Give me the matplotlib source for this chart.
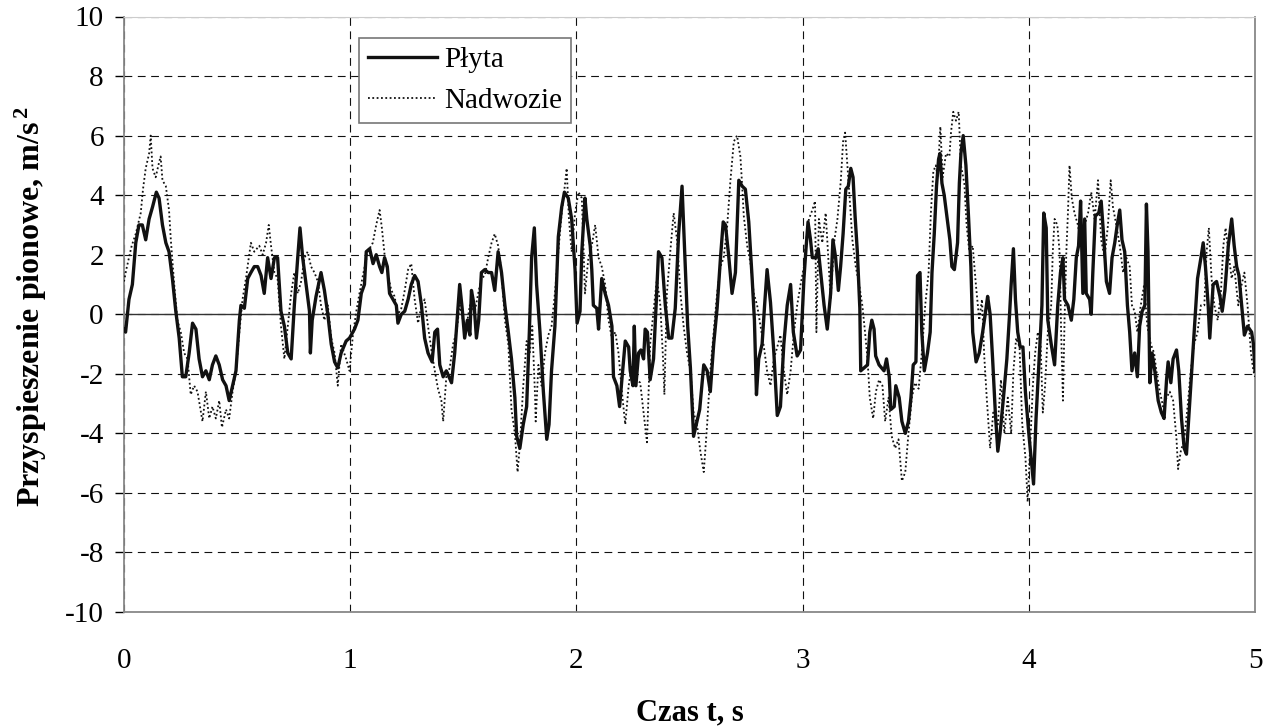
import numpy as np
import matplotlib
matplotlib.use("Agg")
import matplotlib.pyplot as plt

plt.rcParams['font.family'] = ['Liberation Serif', 'DejaVu Serif']
plt.rcParams['axes.unicode_minus'] = False
plt.rcParams['mathtext.fontset'] = 'custom'
plt.rcParams['mathtext.rm'] = 'Liberation Serif'
plt.rcParams['mathtext.bf'] = 'Liberation Serif:bold'
plt.rcParams['mathtext.default'] = 'bf'

# Plyta (solid) - time [s] and acceleration [m/s2]
czas_plyta = [
    0.000, 0.007, 0.022, 0.037, 0.052, 0.066, 0.081, 0.096, 0.111, 0.126,
    0.143, 0.155, 0.170, 0.185, 0.199, 0.214, 0.229, 0.244, 0.258, 0.273,
    0.288, 0.303, 0.318, 0.332, 0.347, 0.362, 0.377, 0.391, 0.406, 0.421,
    0.436, 0.451, 0.465, 0.480, 0.495, 0.510, 0.517, 0.532, 0.547, 0.561,
    0.576, 0.591, 0.606, 0.620, 0.635, 0.650, 0.665, 0.679, 0.694, 0.709,
    0.724, 0.739, 0.753, 0.768, 0.778, 0.790, 0.805, 0.820, 0.824, 0.832,
    0.849, 0.871, 0.886, 0.901, 0.916, 0.931, 0.945, 0.960, 0.982, 0.997,
    1.019, 1.034, 1.049, 1.063, 1.071, 1.086, 1.101, 1.115, 1.130, 1.140,
    1.152, 1.164, 1.174, 1.189, 1.204, 1.211, 1.226, 1.241, 1.256, 1.270,
    1.285, 1.300, 1.315, 1.329, 1.344, 1.362, 1.374, 1.386, 1.396, 1.411,
    1.425, 1.448, 1.462, 1.477, 1.484, 1.495, 1.506, 1.518, 1.529, 1.536,
    1.548, 1.558, 1.568, 1.580, 1.595, 1.610, 1.625, 1.639, 1.654, 1.669,
    1.684, 1.699, 1.713, 1.728, 1.736, 1.750, 1.765, 1.780, 1.792, 1.802,
    1.814, 1.824, 1.839, 1.854, 1.869, 1.879, 1.890, 1.905, 1.920, 1.935,
    1.947, 1.964, 1.979, 1.994, 2.003, 2.016, 2.024, 2.038, 2.046, 2.061,
    2.068, 2.075, 2.090, 2.098, 2.112, 2.127, 2.142, 2.157, 2.164, 2.179,
    2.191, 2.201, 2.216, 2.231, 2.238, 2.250, 2.256, 2.263, 2.275, 2.285,
    2.297, 2.304, 2.314, 2.326, 2.341, 2.353, 2.363, 2.378, 2.393, 2.408,
    2.422, 2.437, 2.452, 2.467, 2.482, 2.492, 2.504, 2.518, 2.530, 2.545,
    2.563, 2.578, 2.592, 2.607, 2.622, 2.637, 2.649, 2.659, 2.674, 2.688,
    2.703, 2.718, 2.733, 2.747, 2.762, 2.777, 2.787, 2.796, 2.806, 2.821,
    2.832, 2.843, 2.858, 2.873, 2.888, 2.902, 2.917, 2.932, 2.947, 2.959,
    2.976, 2.991, 3.006, 3.015, 3.024, 3.035, 3.043, 3.058, 3.069, 3.080,
    3.095, 3.109, 3.124, 3.134, 3.146, 3.158, 3.168, 3.179, 3.191, 3.202,
    3.213, 3.223, 3.232, 3.242, 3.253, 3.257, 3.272, 3.287, 3.297, 3.306,
    3.316, 3.323, 3.338, 3.360, 3.371, 3.383, 3.390, 3.405, 3.412, 3.427,
    3.439, 3.454, 3.468, 3.479, 3.489, 3.501, 3.508, 3.519, 3.527, 3.538,
    3.552, 3.564, 3.572, 3.582, 3.592, 3.601, 3.607, 3.616, 3.626, 3.641,
    3.651, 3.660, 3.671, 3.685, 3.693, 3.700, 3.710, 3.722, 3.734, 3.744,
    3.752, 3.767, 3.781, 3.796, 3.811, 3.818, 3.829, 3.840, 3.852, 3.863,
    3.873, 3.888, 3.903, 3.915, 3.922, 3.932, 3.941, 3.951, 3.962, 3.974,
    3.985, 4.000, 4.010, 4.021, 4.032, 4.047, 4.058, 4.066, 4.077, 4.084,
    4.099, 4.114, 4.128, 4.140, 4.151, 4.158, 4.173, 4.188, 4.199, 4.210,
    4.220, 4.229, 4.239, 4.247, 4.254, 4.269, 4.276, 4.283, 4.294, 4.309,
    4.320, 4.332, 4.343, 4.357, 4.368, 4.380, 4.391, 4.402, 4.412, 4.424,
    4.436, 4.446, 4.456, 4.468, 4.480, 4.490, 4.501, 4.513, 4.520, 4.527,
    4.535, 4.545, 4.557, 4.572, 4.586, 4.598, 4.609, 4.616, 4.628, 4.638,
    4.653, 4.663, 4.675, 4.687, 4.697, 4.707, 4.720, 4.731, 4.746, 4.761,
    4.771, 4.781, 4.793, 4.800, 4.815, 4.830, 4.845, 4.855, 4.867, 4.882,
    4.897, 4.908, 4.919, 4.929, 4.941, 4.953, 4.967, 4.985, 4.993, 5.000]
plyta = [
    -0.5, -0.6, 0.5, 1.0, 2.4, 3.0, 3.0, 2.5, 3.2, 3.6,
    4.1, 3.9, 3.0, 2.4, 2.1, 1.2, 0.1, -0.8, -2.1, -2.1,
    -1.3, -0.3, -0.5, -1.5, -2.1, -1.9, -2.2, -1.7, -1.4, -1.7,
    -2.2, -2.4, -2.9, -2.4, -1.9, -0.2, 0.3, 0.2, 1.2, 1.4,
    1.6, 1.6, 1.3, 0.7, 1.9, 1.2, 1.9, 1.9, 0.1, -0.4,
    -1.3, -1.5, 0.3, 1.9, 2.9, 1.9, 1.0, 0.1, -1.3, -0.2,
    0.6, 1.4, 0.8, 0.0, -1.0, -1.6, -1.8, -1.3, -0.9, -0.8,
    -0.5, -0.2, 0.7, 1.0, 2.1, 2.2, 1.7, 2.0, 1.6, 1.4,
    1.9, 1.6, 0.7, 0.5, 0.3, -0.3, 0.0, 0.1, 0.5, 1.0,
    1.3, 1.1, 0.3, -0.8, -1.3, -1.6, -0.6, -0.5, -1.7, -2.1,
    -1.9, -2.3, -1.3, 0.3, 1.0, 0.2, -0.8, -0.2, -0.7, 0.8,
    0.3, -0.8, -0.2, 1.4, 1.5, 1.4, 1.4, 0.8, 2.1, 1.4,
    0.3, -0.6, -1.5, -2.8, -4.1, -4.5, -3.7, -3.1, -0.6, 1.9,
    2.9, 1.0, -0.6, -2.6, -4.2, -3.7, -1.9, -0.4, 2.6, 3.6,
    4.1, 3.9, 3.2, 1.5, -0.3, 0.1, 2.1, 3.9, 3.2, 2.3,
    1.5, 0.3, 0.2, -0.5, 1.2, 0.7, 0.3, -0.4, -2.1, -2.4,
    -3.1, -2.2, -0.9, -1.1, -1.9, -2.4, -0.4, -2.4, -1.3, -1.2,
    -1.5, -0.5, -0.6, -2.2, -1.5, 0.4, 2.1, 1.9, 0.3, -0.8,
    -0.8, 0.2, 2.7, 4.3, 1.5, -0.4, -1.8, -4.1, -3.7, -3.2,
    -1.7, -1.9, -2.6, -1.0, 0.2, 1.9, 3.1, 3.0, 1.9, 0.7,
    1.4, 4.5, 4.3, 4.2, 3.1, 1.2, -0.2, -2.7, -1.5, -1.0,
    0.3, 1.5, 0.4, -1.3, -3.4, -3.1, -1.0, 0.3, 1.0, -0.6,
    -1.4, -1.2, 1.2, 2.2, 3.1, 2.5, 1.9, 1.9, 2.2, 1.4,
    0.3, -0.5, 0.7, 2.5, 1.9, 0.8, 1.6, 2.7, 4.2, 4.3,
    4.9, 4.6, 3.3, 2.1, 0.2, -1.9, -1.8, -1.7, -0.6, -0.2,
    -0.5, -1.4, -1.7, -1.9, -1.5, -2.1, -3.2, -3.1, -2.4, -2.8,
    -3.6, -4.0, -3.6, -2.8, -1.7, -1.6, 1.3, 1.4, -0.6, -1.9,
    -1.3, -0.6, 1.4, 2.7, 4.3, 5.2, 5.4, 4.4, 4.0, 3.1,
    2.5, 1.6, 1.5, 2.4, 4.4, 5.4, 6.0, 5.0, 3.2, 1.6,
    -0.6, -1.6, -1.3, -0.6, 0.2, 0.6, 0.0, -1.5, -3.3, -4.6,
    -4.0, -2.8, -1.5, 0.0, 1.0, 2.2, 0.5, -0.6, -1.1, -1.1,
    -2.6, -4.0, -4.8, -5.7, -3.5, -1.3, 0.3, 3.4, 2.9, -0.2,
    -1.0, -1.7, 0.3, 1.4, 1.9, 0.5, 0.3, -0.2, 0.5, 1.9,
    2.3, 3.8, 0.7, 3.2, 0.7, 0.5, 0.0, 1.4, 3.3, 3.4,
    3.8, 2.5, 1.1, 0.7, 1.9, 2.4, 3.0, 3.5, 2.5, 2.1,
    0.3, -0.6, -1.9, -1.3, -2.1, -0.4, 0.1, 0.3, 3.7, 2.1,
    -2.3, -1.3, -1.9, -2.9, -3.3, -3.5, -2.2, -1.6, -2.3, -1.5,
    -1.2, -1.9, -3.5, -4.5, -4.7, -3.5, -1.9, -0.6, 1.2, 1.9,
    2.4, 1.6, 0.3, -0.8, 1.0, 1.1, 0.6, 0.1, 0.8, 2.3,
    3.2, 2.3, 1.6, 1.3, 0.3, -0.7, -0.4, -0.6, -1.0, -1.9]

# Nadwozie (dotted)
czas_nadwozie = [
    0.000, 0.010, 0.022, 0.034, 0.052, 0.074, 0.084, 0.096, 0.111, 0.118,
    0.126, 0.140, 0.155, 0.162, 0.170, 0.185, 0.199, 0.207, 0.222, 0.236,
    0.251, 0.266, 0.281, 0.295, 0.310, 0.325, 0.347, 0.362, 0.377, 0.391,
    0.406, 0.421, 0.433, 0.451, 0.465, 0.480, 0.495, 0.510, 0.524, 0.539,
    0.561, 0.576, 0.598, 0.613, 0.628, 0.640, 0.650, 0.665, 0.679, 0.694,
    0.709, 0.724, 0.739, 0.753, 0.768, 0.783, 0.798, 0.812, 0.827, 0.842,
    0.857, 0.871, 0.886, 0.901, 0.916, 0.931, 0.945, 0.960, 0.982, 0.997,
    1.012, 1.027, 1.041, 1.056, 1.078, 1.100, 1.115, 1.130, 1.140, 1.152,
    1.167, 1.182, 1.196, 1.211, 1.226, 1.241, 1.256, 1.270, 1.285, 1.300,
    1.315, 1.329, 1.344, 1.359, 1.374, 1.388, 1.403, 1.411, 1.425, 1.440,
    1.455, 1.470, 1.484, 1.499, 1.514, 1.529, 1.551, 1.566, 1.580, 1.595,
    1.610, 1.625, 1.639, 1.654, 1.669, 1.684, 1.699, 1.713, 1.728, 1.740,
    1.750, 1.765, 1.780, 1.794, 1.805, 1.817, 1.820, 1.832, 1.846, 1.861,
    1.876, 1.890, 1.905, 1.920, 1.935, 1.950, 1.957, 1.967, 1.979, 1.994,
    2.009, 2.024, 2.038, 2.053, 2.068, 2.083, 2.098, 2.112, 2.127, 2.142,
    2.157, 2.172, 2.186, 2.201, 2.216, 2.231, 2.245, 2.267, 2.282, 2.297,
    2.312, 2.326, 2.341, 2.356, 2.371, 2.383, 2.389, 2.400, 2.415, 2.430,
    2.445, 2.460, 2.474, 2.489, 2.504, 2.518, 2.533, 2.548, 2.563, 2.578,
    2.592, 2.607, 2.622, 2.637, 2.651, 2.666, 2.681, 2.696, 2.710, 2.725,
    2.733, 2.740, 2.755, 2.770, 2.784, 2.799, 2.814, 2.829, 2.843, 2.858,
    2.873, 2.888, 2.902, 2.917, 2.932, 2.947, 2.962, 2.976, 2.991, 3.006,
    3.013, 3.028, 3.043, 3.055, 3.061, 3.072, 3.087, 3.102, 3.109, 3.124,
    3.139, 3.154, 3.169, 3.179, 3.188, 3.198, 3.208, 3.220, 3.235, 3.250,
    3.264, 3.276, 3.287, 3.297, 3.312, 3.324, 3.338, 3.353, 3.365, 3.380,
    3.394, 3.409, 3.424, 3.439, 3.454, 3.468, 3.483, 3.497, 3.513, 3.527,
    3.542, 3.557, 3.567, 3.578, 3.589, 3.597, 3.609, 3.619, 3.634, 3.649,
    3.656, 3.666, 3.678, 3.690, 3.700, 3.715, 3.725, 3.737, 3.752, 3.766,
    3.781, 3.793, 3.803, 3.814, 3.829, 3.843, 3.863, 3.877, 3.892, 3.907,
    3.922, 3.932, 3.944, 3.959, 3.971, 3.985, 3.995, 4.005, 4.018, 4.028,
    4.040, 4.052, 4.062, 4.072, 4.084, 4.099, 4.106, 4.114, 4.126, 4.136,
    4.143, 4.151, 4.158, 4.166, 4.173, 4.180, 4.190, 4.202, 4.217, 4.232,
    4.247, 4.262, 4.276, 4.291, 4.306, 4.320, 4.335, 4.350, 4.362, 4.372,
    4.387, 4.402, 4.417, 4.431, 4.446, 4.456, 4.468, 4.480, 4.495, 4.510,
    4.524, 4.539, 4.554, 4.564, 4.579, 4.594, 4.609, 4.623, 4.638, 4.653,
    4.660, 4.672, 4.687, 4.702, 4.716, 4.731, 4.746, 4.761, 4.776, 4.786,
    4.796, 4.808, 4.820, 4.835, 4.849, 4.860, 4.870, 4.882, 4.897, 4.908,
    4.926, 4.941, 4.953, 4.967, 4.982, 4.993, 5.000]
nadwozie = [
    1.1, 1.5, 1.9, 2.3, 2.7, 3.4, 4.2, 4.9, 5.4, 6.0,
    4.9, 4.6, 5.1, 5.3, 4.5, 4.3, 3.5, 2.5, 1.0, -0.2,
    -0.6, -1.3, -1.5, -2.7, -2.4, -2.6, -3.6, -2.6, -3.5, -3.1,
    -3.5, -2.9, -3.8, -3.2, -3.5, -2.6, -1.9, -0.6, 0.5, 1.2,
    2.4, 2.1, 2.3, 2.0, 2.4, 3.0, 2.3, 1.4, 1.2, -0.4,
    -1.5, -0.4, 0.7, 1.4, 0.7, 1.1, 1.9, 2.1, 1.6, 1.4,
    1.1, 0.3, -0.2, 0.3, -0.8, -1.3, -2.4, -1.0, -1.5, -1.9,
    -0.7, 0.1, 0.7, 1.3, 2.1, 2.4, 3.0, 3.5, 2.9, 2.0,
    1.3, 0.8, 0.6, 0.0, 0.2, 0.8, 1.5, 1.7, 0.5, -0.3,
    0.3, 0.5, -0.4, -1.2, -1.9, -2.5, -2.9, -3.6, -2.1, -1.8,
    -1.0, -0.6, 0.3, -0.2, -0.4, 0.3, 0.1, 0.7, 1.2, 1.3,
    1.9, 2.4, 2.7, 2.3, 1.4, -0.2, -1.0, -3.2, -4.0, -5.3,
    -4.4, -2.4, -0.9, -1.3, -0.4, -2.7, -3.6, -1.7, -2.4, -1.3,
    -0.7, -0.4, 0.7, 2.1, 3.4, 4.4, 4.9, 3.2, 2.1, 3.4,
    4.1, 3.9, 0.7, 1.9, 2.3, 3.0, 1.9, 1.6, 1.0, -0.2,
    -0.8, -0.6, -1.3, -2.6, -3.7, -2.4, -1.7, -2.2, -2.3, -3.3,
    -4.3, -1.0, 0.1, 1.2, 0.3, -1.5, -2.7, 0.7, 2.1, 3.4,
    2.5, 0.7, -0.4, -1.3, -1.9, -3.3, -3.7, -4.6, -5.3, -3.7,
    -1.9, -0.6, 0.7, 1.6, 1.9, 2.9, 4.5, 5.8, 6.0, 5.3,
    4.3, 3.3, 2.3, 1.7, 0.7, 0.3, -0.4, -1.1, -1.9, -2.4,
    -1.5, -1.1, -0.7, -1.9, -2.7, -1.9, -0.6, 0.3, 1.0, 1.6,
    2.3, 3.2, 3.5, 3.8, -0.6, 3.2, 2.4, 3.4, 2.5, 0.5,
    2.4, 3.2, 4.5, 5.8, 6.1, 5.0, 3.9, 2.5, 1.6, 1.0,
    0.3, -0.6, -1.5, -2.8, -3.5, -2.6, -2.2, -2.4, -3.6, -2.8,
    -4.1, -4.5, -4.2, -5.6, -5.3, -4.0, -2.8, -2.3, -2.5, -1.3,
    0.3, 1.4, 3.4, 4.8, 5.0, 4.6, 6.3, 4.6, 5.4, 5.3,
    6.1, 6.8, 6.5, 6.8, 5.0, 4.4, 3.0, 2.1, 2.3, 1.0,
    -0.2, 0.5, -1.4, -2.8, -4.5, -3.3, -3.7, -2.2, -4.0, -2.8,
    -4.0, -1.9, -0.8, -1.1, -3.7, -4.8, -6.3, -4.6, -2.4, -1.3,
    -0.6, -1.0, -3.3, -2.4, -0.6, 0.3, 2.1, 3.2, 3.0, 2.1,
    -0.6, -2.9, -0.2, 2.1, 3.4, 5.0, 3.9, 3.4, 3.0, 2.3,
    3.0, 3.4, 4.1, 3.2, 4.5, 2.5, 1.9, 3.0, 4.5, 3.6,
    3.0, 2.3, 1.4, 1.9, 1.6, 0.3, 0.1, -0.6, 0.3, 1.0,
    -0.4, -1.0, -1.3, -1.9, -2.6, -3.1, -2.8, -2.6, -2.9, -4.2,
    -5.2, -4.6, -4.2, -3.1, -1.9, -1.0, -0.6, 0.3, 0.3, 2.1,
    2.9, 1.2, 0.3, -0.2, 0.7, 2.3, 2.9, 2.1, 1.2, 1.6,
    0.3, 1.0, 1.4, 0.3, -1.3, -1.9, -2.1]

assert len(czas_plyta) == len(plyta)
assert len(czas_nadwozie) == len(nadwozie)

x_ticks = [0, 1, 2, 3, 4, 5]
y_ticks = list(range(-10, 11, 2))

fig = plt.figure(figsize=(12.72, 7.27), dpi=100)
ax = fig.add_axes([124 / 1272, 1 - 612 / 727, 1131 / 1272, 595.5 / 727])

ax.plot(czas_nadwozie, nadwozie, color='#111111', lw=1.3,
        linestyle=(0, (1, 1.4)), label='Nadwozie', zorder=3)
ax.plot(czas_plyta, plyta, color='#111111', lw=2.4, label='Płyta', zorder=4)
ax.axhline(0, color='#333333', lw=1.0, zorder=2)

ax.set_xlim(0, 5)
ax.set_ylim(-10, 10)
ax.set_xticks(x_ticks)
ax.set_yticks(y_ticks)
ax.grid(True, color='#111111', lw=0.8, linestyle=(0, (7, 5)))
ax.tick_params(axis='x', length=0, pad=26, labelsize=21)
ax.tick_params(axis='y', length=6.5, width=1.0, pad=8, labelsize=21,
               direction='out')

for s in ['left', 'bottom', 'right']:
    ax.spines[s].set_color('#888888')
    ax.spines[s].set_linewidth(1.3)
ax.spines['top'].set_color('#cccccc')

ax.set_xlabel('Czas t, s', fontsize=22, fontweight='bold')
ax.set_ylabel('Przyspieszenie pionowe, m/s$^{\\,2}$', fontsize=23,
              fontweight='bold')
ax.xaxis.set_label_coords(0.5, -0.145)
ax.yaxis.set_label_coords(-0.066, 0.513)

h, l = ax.get_legend_handles_labels()
leg = ax.legend(h[::-1], l[::-1], loc='upper left',
                bbox_to_anchor=(0.208, 0.964), borderaxespad=0,
                fontsize=21, frameon=True, fancybox=False, framealpha=1,
                edgecolor='#777777', handlelength=2.35, handletextpad=0.25,
                labelspacing=0.5, borderpad=0.3)
leg.get_frame().set_linewidth(1.2)

fig.savefig('out.png', dpi=100)
